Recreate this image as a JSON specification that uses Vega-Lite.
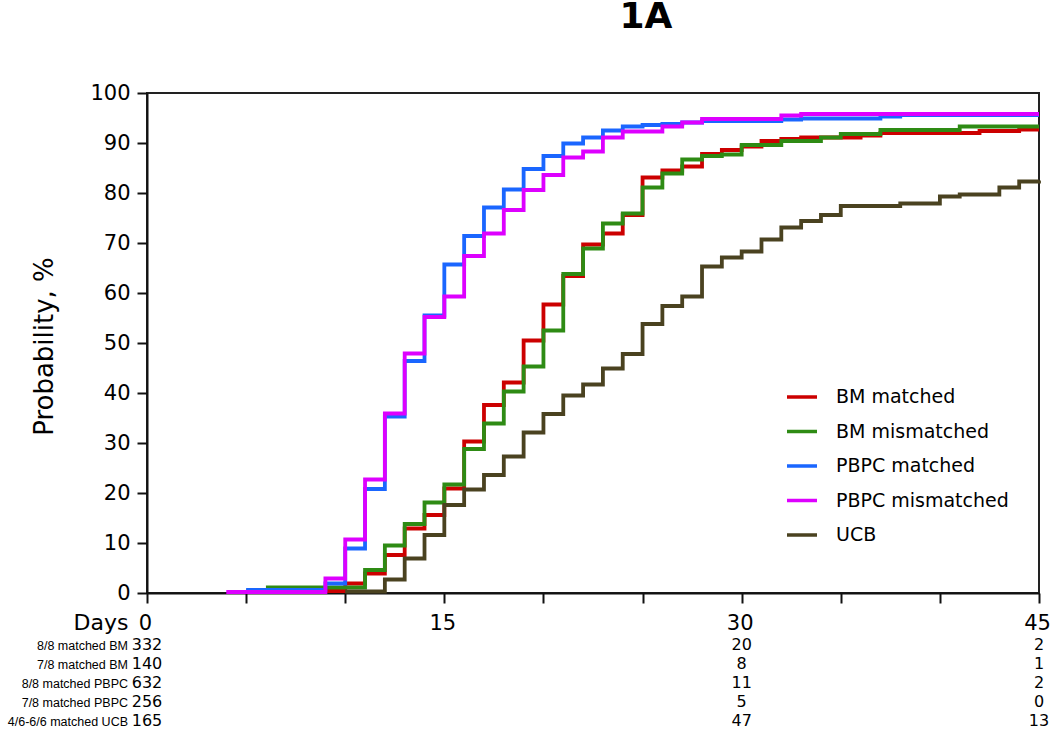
{
  "$schema": "https://vega.github.io/schema/vega-lite/v6.json",
  "width": 892,
  "height": 500,
  "autosize": {"type": "none"},
  "padding": {"left": 147, "top": 93, "right": 11, "bottom": 137},
  "background": "white",
  "title": {"text": "1A", "fontSize": 36, "fontWeight": "bold", "font": "DejaVu Sans", "anchor": "middle", "frame": "group", "dx": 53, "baseline": "alphabetic", "offset": 18, "color": "black"},
  "config": {"view": {"stroke": "#222", "strokeWidth": 2}, "font": "DejaVu Sans"},
  "datasets": {
    "curves": [
      {"group": "BM matched", "day": 5, "prob": 0.3},
      {"group": "BM matched", "day": 9, "prob": 0.4},
      {"group": "BM matched", "day": 10, "prob": 1.9},
      {"group": "BM matched", "day": 11, "prob": 3.9},
      {"group": "BM matched", "day": 12, "prob": 7.6},
      {"group": "BM matched", "day": 13, "prob": 12.9},
      {"group": "BM matched", "day": 14, "prob": 15.6},
      {"group": "BM matched", "day": 15, "prob": 20.9},
      {"group": "BM matched", "day": 16, "prob": 30.3},
      {"group": "BM matched", "day": 17, "prob": 37.6},
      {"group": "BM matched", "day": 18, "prob": 42.1},
      {"group": "BM matched", "day": 19, "prob": 50.5},
      {"group": "BM matched", "day": 20, "prob": 57.7},
      {"group": "BM matched", "day": 21, "prob": 63.4},
      {"group": "BM matched", "day": 22, "prob": 69.7},
      {"group": "BM matched", "day": 23, "prob": 71.9},
      {"group": "BM matched", "day": 24, "prob": 75.6},
      {"group": "BM matched", "day": 25, "prob": 83.1},
      {"group": "BM matched", "day": 26, "prob": 84.5},
      {"group": "BM matched", "day": 27, "prob": 85.3},
      {"group": "BM matched", "day": 28, "prob": 87.8},
      {"group": "BM matched", "day": 29, "prob": 88.6},
      {"group": "BM matched", "day": 30, "prob": 89.3},
      {"group": "BM matched", "day": 31, "prob": 90.4},
      {"group": "BM matched", "day": 32, "prob": 90.8},
      {"group": "BM matched", "day": 33, "prob": 91.1},
      {"group": "BM matched", "day": 36, "prob": 91.5},
      {"group": "BM matched", "day": 37, "prob": 92.0},
      {"group": "BM matched", "day": 42, "prob": 92.4},
      {"group": "BM matched", "day": 44, "prob": 92.7},
      {"group": "BM matched", "day": 45, "prob": 92.7},
      {"group": "BM mismatched", "day": 6, "prob": 1.1},
      {"group": "BM mismatched", "day": 11, "prob": 4.6},
      {"group": "BM mismatched", "day": 12, "prob": 9.5},
      {"group": "BM mismatched", "day": 13, "prob": 13.8},
      {"group": "BM mismatched", "day": 14, "prob": 18.1},
      {"group": "BM mismatched", "day": 15, "prob": 21.7},
      {"group": "BM mismatched", "day": 16, "prob": 28.8},
      {"group": "BM mismatched", "day": 17, "prob": 33.9},
      {"group": "BM mismatched", "day": 18, "prob": 40.3},
      {"group": "BM mismatched", "day": 19, "prob": 45.3},
      {"group": "BM mismatched", "day": 20, "prob": 52.5},
      {"group": "BM mismatched", "day": 21, "prob": 63.8},
      {"group": "BM mismatched", "day": 22, "prob": 68.9},
      {"group": "BM mismatched", "day": 23, "prob": 73.9},
      {"group": "BM mismatched", "day": 24, "prob": 75.9},
      {"group": "BM mismatched", "day": 25, "prob": 81.1},
      {"group": "BM mismatched", "day": 26, "prob": 83.9},
      {"group": "BM mismatched", "day": 27, "prob": 86.7},
      {"group": "BM mismatched", "day": 28, "prob": 87.4},
      {"group": "BM mismatched", "day": 29, "prob": 87.7},
      {"group": "BM mismatched", "day": 30, "prob": 89.6},
      {"group": "BM mismatched", "day": 32, "prob": 90.4},
      {"group": "BM mismatched", "day": 34, "prob": 91.1},
      {"group": "BM mismatched", "day": 35, "prob": 91.8},
      {"group": "BM mismatched", "day": 37, "prob": 92.6},
      {"group": "BM mismatched", "day": 41, "prob": 93.3},
      {"group": "BM mismatched", "day": 45, "prob": 93.3},
      {"group": "PBPC matched", "day": 5, "prob": 0.6},
      {"group": "PBPC matched", "day": 9, "prob": 1.9},
      {"group": "PBPC matched", "day": 10, "prob": 8.9},
      {"group": "PBPC matched", "day": 11, "prob": 20.8},
      {"group": "PBPC matched", "day": 12, "prob": 35.3},
      {"group": "PBPC matched", "day": 13, "prob": 46.4},
      {"group": "PBPC matched", "day": 14, "prob": 55.5},
      {"group": "PBPC matched", "day": 15, "prob": 65.7},
      {"group": "PBPC matched", "day": 16, "prob": 71.4},
      {"group": "PBPC matched", "day": 17, "prob": 77.1},
      {"group": "PBPC matched", "day": 18, "prob": 80.7},
      {"group": "PBPC matched", "day": 19, "prob": 84.8},
      {"group": "PBPC matched", "day": 20, "prob": 87.4},
      {"group": "PBPC matched", "day": 21, "prob": 89.9},
      {"group": "PBPC matched", "day": 22, "prob": 91.1},
      {"group": "PBPC matched", "day": 23, "prob": 92.5},
      {"group": "PBPC matched", "day": 24, "prob": 93.3},
      {"group": "PBPC matched", "day": 25, "prob": 93.6},
      {"group": "PBPC matched", "day": 26, "prob": 93.8},
      {"group": "PBPC matched", "day": 27, "prob": 94.1},
      {"group": "PBPC matched", "day": 28, "prob": 94.4},
      {"group": "PBPC matched", "day": 32, "prob": 94.7},
      {"group": "PBPC matched", "day": 33, "prob": 94.9},
      {"group": "PBPC matched", "day": 37, "prob": 95.3},
      {"group": "PBPC matched", "day": 38, "prob": 95.6},
      {"group": "PBPC matched", "day": 45, "prob": 95.6},
      {"group": "PBPC mismatched", "day": 4, "prob": 0.2},
      {"group": "PBPC mismatched", "day": 9, "prob": 2.9},
      {"group": "PBPC mismatched", "day": 10, "prob": 10.7},
      {"group": "PBPC mismatched", "day": 11, "prob": 22.7},
      {"group": "PBPC mismatched", "day": 12, "prob": 35.9},
      {"group": "PBPC mismatched", "day": 13, "prob": 47.9},
      {"group": "PBPC mismatched", "day": 14, "prob": 55.2},
      {"group": "PBPC mismatched", "day": 15, "prob": 59.3},
      {"group": "PBPC mismatched", "day": 16, "prob": 67.4},
      {"group": "PBPC mismatched", "day": 17, "prob": 71.9},
      {"group": "PBPC mismatched", "day": 18, "prob": 76.6},
      {"group": "PBPC mismatched", "day": 19, "prob": 80.6},
      {"group": "PBPC mismatched", "day": 20, "prob": 83.6},
      {"group": "PBPC mismatched", "day": 21, "prob": 87.1},
      {"group": "PBPC mismatched", "day": 22, "prob": 88.3},
      {"group": "PBPC mismatched", "day": 23, "prob": 91.1},
      {"group": "PBPC mismatched", "day": 24, "prob": 92.3},
      {"group": "PBPC mismatched", "day": 26, "prob": 93.3},
      {"group": "PBPC mismatched", "day": 27, "prob": 94.1},
      {"group": "PBPC mismatched", "day": 28, "prob": 94.8},
      {"group": "PBPC mismatched", "day": 32, "prob": 95.5},
      {"group": "PBPC mismatched", "day": 33, "prob": 95.8},
      {"group": "PBPC mismatched", "day": 45, "prob": 95.8},
      {"group": "UCB", "day": 10, "prob": 0.3},
      {"group": "UCB", "day": 12, "prob": 2.7},
      {"group": "UCB", "day": 13, "prob": 6.9},
      {"group": "UCB", "day": 14, "prob": 11.6},
      {"group": "UCB", "day": 15, "prob": 17.6},
      {"group": "UCB", "day": 16, "prob": 20.7},
      {"group": "UCB", "day": 17, "prob": 23.6},
      {"group": "UCB", "day": 18, "prob": 27.3},
      {"group": "UCB", "day": 19, "prob": 32.1},
      {"group": "UCB", "day": 20, "prob": 35.8},
      {"group": "UCB", "day": 21, "prob": 39.5},
      {"group": "UCB", "day": 22, "prob": 41.7},
      {"group": "UCB", "day": 23, "prob": 44.9},
      {"group": "UCB", "day": 24, "prob": 47.8},
      {"group": "UCB", "day": 25, "prob": 53.8},
      {"group": "UCB", "day": 26, "prob": 57.4},
      {"group": "UCB", "day": 27, "prob": 59.3},
      {"group": "UCB", "day": 28, "prob": 65.3},
      {"group": "UCB", "day": 29, "prob": 67.1},
      {"group": "UCB", "day": 30, "prob": 68.3},
      {"group": "UCB", "day": 31, "prob": 70.7},
      {"group": "UCB", "day": 32, "prob": 73.1},
      {"group": "UCB", "day": 33, "prob": 74.4},
      {"group": "UCB", "day": 34, "prob": 75.6},
      {"group": "UCB", "day": 35, "prob": 77.4},
      {"group": "UCB", "day": 38, "prob": 77.9},
      {"group": "UCB", "day": 40, "prob": 79.3},
      {"group": "UCB", "day": 41, "prob": 79.7},
      {"group": "UCB", "day": 43, "prob": 81.1},
      {"group": "UCB", "day": 44, "prob": 82.3},
      {"group": "UCB", "day": 45, "prob": 82.5}
    ],
    "risk": [
      {"row": "8/8 matched BM", "day": 0, "n": 332},
      {"row": "7/8 matched BM", "day": 0, "n": 140},
      {"row": "8/8 matched PBPC", "day": 0, "n": 632},
      {"row": "7/8 matched PBPC", "day": 0, "n": 256},
      {"row": "4/6-6/6 matched UCB", "day": 0, "n": 165},
      {"row": "8/8 matched BM", "day": 30, "n": 20},
      {"row": "7/8 matched BM", "day": 30, "n": 8},
      {"row": "8/8 matched PBPC", "day": 30, "n": 11},
      {"row": "7/8 matched PBPC", "day": 30, "n": 5},
      {"row": "4/6-6/6 matched UCB", "day": 30, "n": 47},
      {"row": "8/8 matched BM", "day": 45, "n": 2},
      {"row": "7/8 matched BM", "day": 45, "n": 1},
      {"row": "8/8 matched PBPC", "day": 45, "n": 2},
      {"row": "7/8 matched PBPC", "day": 45, "n": 0},
      {"row": "4/6-6/6 matched UCB", "day": 45, "n": 13}
    ]
  },
  "layer": [
    {
      "data": {"name": "curves"},
      "mark": {"type": "line", "interpolate": "step-after", "strokeWidth": 3.8},
      "encoding": {
        "x": {
          "field": "day", "type": "quantitative",
          "scale": {"domain": [0, 45], "nice": false},
          "axis": {
            "values": [0, 5, 10, 15, 20, 25, 30, 35, 40, 45],
            "labelExpr": "datum.value % 15 === 0 ? datum.label : ''",
            "labelFlush": false, "labelOverlap": false, "labelOffset": -2,
            "labelFontSize": 21, "labelFont": "DejaVu Sans", "labelColor": "black", "labelPadding": 9,
            "tickSize": 10, "tickWidth": 2, "tickColor": "#111",
            "domainColor": "#111", "domainWidth": 2, "grid": false,
            "title": "Days", "titleFont": "DejaVu Sans", "titleFontSize": 22, "titleFontWeight": "normal", "titleColor": "black",
            "titleX": -19, "titleY": 36, "titleAlign": "right", "titleBaseline": "alphabetic", "titleAnchor": null
          }
        },
        "y": {
          "field": "prob", "type": "quantitative",
          "scale": {"domain": [0, 100], "nice": false},
          "axis": {
            "values": [0, 10, 20, 30, 40, 50, 60, 70, 80, 90, 100],
            "labelFontSize": 21, "labelFont": "DejaVu Sans", "labelColor": "black", "labelPadding": 7,
            "tickSize": 10, "tickWidth": 2, "tickColor": "#111",
            "domainColor": "#111", "domainWidth": 2, "grid": false,
            "title": "Probability, %", "titleFont": "DejaVu Sans", "titleFontSize": 26, "titleFontWeight": "normal", "titleColor": "black",
            "titleX": -103, "titleY": 253, "titleAlign": "center", "titleBaseline": "middle", "titleAngle": -90
          }
        },
        "color": {
          "field": "group", "type": "nominal",
          "scale": {
            "domain": ["BM matched", "BM mismatched", "PBPC matched", "PBPC mismatched", "UCB"],
            "range": ["#cc0000", "#2e8b14", "#1a66ff", "#dd00ff", "#4a4220"]
          },
          "legend": {
            "orient": "none", "legendX": 638, "legendY": 287, "title": null,
            "symbolType": "stroke", "symbolSize": 900, "symbolStrokeWidth": 3.5,
            "labelFontSize": 19, "labelFont": "DejaVu Sans", "labelColor": "black",
            "labelOffset": 17, "rowPadding": 7.5, "padding": 0, "labelLimit": 300
          }
        }
      }
    },
    {
      "data": {"name": "risk"},
      "mark": {"type": "text", "align": "center", "baseline": "alphabetic", "font": "DejaVu Sans", "fontSize": 16, "color": "black"},
      "encoding": {
        "x": {"field": "day", "type": "quantitative"},
        "y": {"field": "row", "type": "ordinal", "axis": null,
              "scale": {"domain": ["8/8 matched BM", "7/8 matched BM", "8/8 matched PBPC", "7/8 matched PBPC", "4/6-6/6 matched UCB"], "range": [557, 633], "padding": 0}},
        "text": {"field": "n", "type": "quantitative"}
      }
    },
    {
      "data": {"name": "risk"},
      "transform": [{"filter": "datum.day === 0"}],
      "mark": {"type": "text", "align": "right", "baseline": "alphabetic", "dx": -19, "font": "Liberation Sans", "fontSize": 12.5, "color": "black"},
      "encoding": {
        "x": {"field": "day", "type": "quantitative"},
        "y": {"field": "row", "type": "ordinal", "axis": null,
              "scale": {"domain": ["8/8 matched BM", "7/8 matched BM", "8/8 matched PBPC", "7/8 matched PBPC", "4/6-6/6 matched UCB"], "range": [557, 633], "padding": 0}},
        "text": {"field": "row", "type": "nominal"}
      }
    }
  ],
  "resolve": {"scale": {"y": "independent"}}
}
